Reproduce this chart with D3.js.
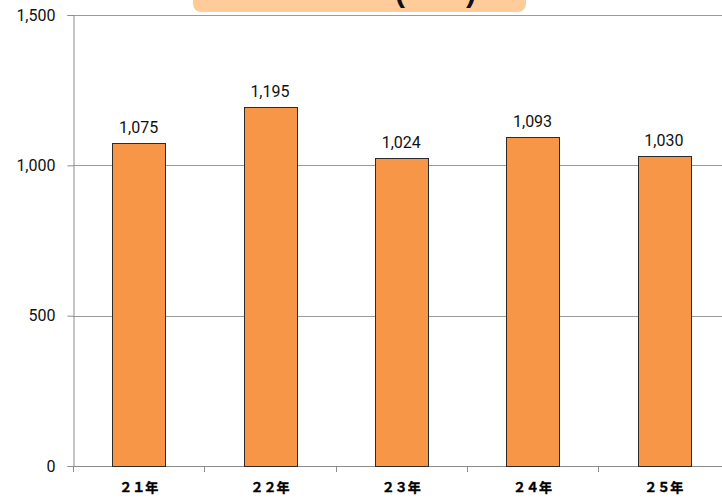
<!DOCTYPE html>
<html>
<head>
<meta charset="utf-8">
<script src="https://cdn.jsdelivr.net/npm/d3@7"></script>
<style>
  html, body { margin: 0; padding: 0; background: #fff; overflow: hidden; }
  svg { display: block; }
</style>
</head>
<body>
<svg id="chart" width="722" height="499"></svg>
<script>
// Yearly counts
const categories = ["２１年", "２２年", "２３年", "２４年", "２５年"];
const values = [1075, 1195, 1024, 1093, 1030];
const yTicks = [0, 500, 1000, 1500];
const titleMain = "発生件数の推移";
const titleUnit = "件数";

const svg = d3.select("#chart");
const margin = { left: 73, top: 15, bottom: 466 };
const plotRight = 73 + 5 * 131.3;

const x = d3.scaleBand()
  .domain(categories)
  .range([margin.left, plotRight])
  .paddingInner(0.6)
  .paddingOuter(0.3);

const y = d3.scaleLinear()
  .domain([0, 1500])
  .range([margin.bottom, margin.top]);

const fmt = d3.format(",");
const numFont = "Roboto, 'Liberation Sans', sans-serif";

// Horizontal gridlines
svg.append("g")
  .selectAll("line")
  .data(yTicks.filter(d => d > 0))
  .join("line")
  .attr("x1", margin.left)
  .attr("x2", 722)
  .attr("y1", d => Math.round(y(d)) + 0.5)
  .attr("y2", d => Math.round(y(d)) + 0.5)
  .attr("stroke", "#9a9a9a")
  .attr("stroke-width", 1);

// Y axis
const yAxis = svg.append("g")
  .attr("transform", `translate(${margin.left + 0.5},0)`)
  .call(d3.axisLeft(y).tickValues(yTicks).tickFormat(fmt).tickSize(6).tickPadding(12));
yAxis.select(".domain").attr("stroke", "#8c8c8c");
yAxis.selectAll(".tick line").attr("stroke", "#8c8c8c");
yAxis.selectAll(".tick text")
  .attr("fill", "#111")
  .style("font-family", numFont)
  .style("font-size", "16px");

// X axis with ticks at category boundaries
const boundaries = d3.range(categories.length + 1).map(i => margin.left + i * x.step());
const xg = svg.append("g");
xg.append("line")
  .attr("x1", margin.left)
  .attr("x2", 722)
  .attr("y1", margin.bottom + 0.5)
  .attr("y2", margin.bottom + 0.5)
  .attr("stroke", "#8c8c8c");
xg.selectAll("line.tick")
  .data(boundaries)
  .join("line")
  .attr("class", "tick")
  .attr("x1", d => Math.round(d) + 0.5)
  .attr("x2", d => Math.round(d) + 0.5)
  .attr("y1", margin.bottom)
  .attr("y2", margin.bottom + 6)
  .attr("stroke", "#8c8c8c");
xg.selectAll("text")
  .data(categories)
  .join("text")
  .attr("x", d => x(d) + x.bandwidth() / 2)
  .attr("y", 492)
  .attr("text-anchor", "middle")
  .attr("fill", "#000")
  .attr("stroke", "#000")
  .attr("stroke-width", 0.4)
  .style("font-family", "'Noto Sans CJK JP', sans-serif")
  .style("font-weight", "bold")
  .style("font-size", "13px")
  .text(d => d);

// Bars
svg.append("g")
  .selectAll("rect")
  .data(values)
  .join("rect")
  .attr("x", (d, i) => Math.round(x(categories[i])) + 0.5)
  .attr("y", d => Math.round(y(d)) + 0.5)
  .attr("width", Math.round(x.bandwidth()))
  .attr("height", d => y(0) - Math.round(y(d)))
  .attr("fill", "#F79646")
  .attr("stroke", "#2b2b2b")
  .attr("stroke-width", 1);

// Value labels
svg.append("g")
  .selectAll("text")
  .data(values)
  .join("text")
  .attr("x", (d, i) => x(categories[i]) + x.bandwidth() / 2)
  .attr("y", d => y(d) - 10)
  .attr("text-anchor", "middle")
  .attr("fill", "#111")
  .style("font-family", numFont)
  .style("font-size", "16px")
  .text(d => fmt(d));

// Title box at top (runs off the top edge); the unit parentheses hang lower
svg.append("rect")
  .attr("x", 193)
  .attr("y", -30)
  .attr("width", 333)
  .attr("height", 42)
  .attr("rx", 8)
  .attr("fill", "#FFCC99");
const title = svg.append("text")
  .attr("x", 476)
  .attr("y", -12)
  .attr("text-anchor", "end")
  .attr("fill", "#111")
  .style("font-family", "'Noto Sans CJK JP', sans-serif")
  .style("font-weight", "bold")
  .style("font-size", "24px");
const parenStyle = sel => sel
  .style("font-family", "'Liberation Sans', sans-serif")
  .style("font-size", "30px");
title.append("tspan").text(titleMain);
title.append("tspan").attr("dx", 4).attr("dy", 14).call(parenStyle).text("(");
title.append("tspan").attr("dx", 7).attr("dy", -14).text(titleUnit);
title.append("tspan").attr("dx", 6).attr("dy", 14).call(parenStyle).text(")");
</script>
</body>
</html>
